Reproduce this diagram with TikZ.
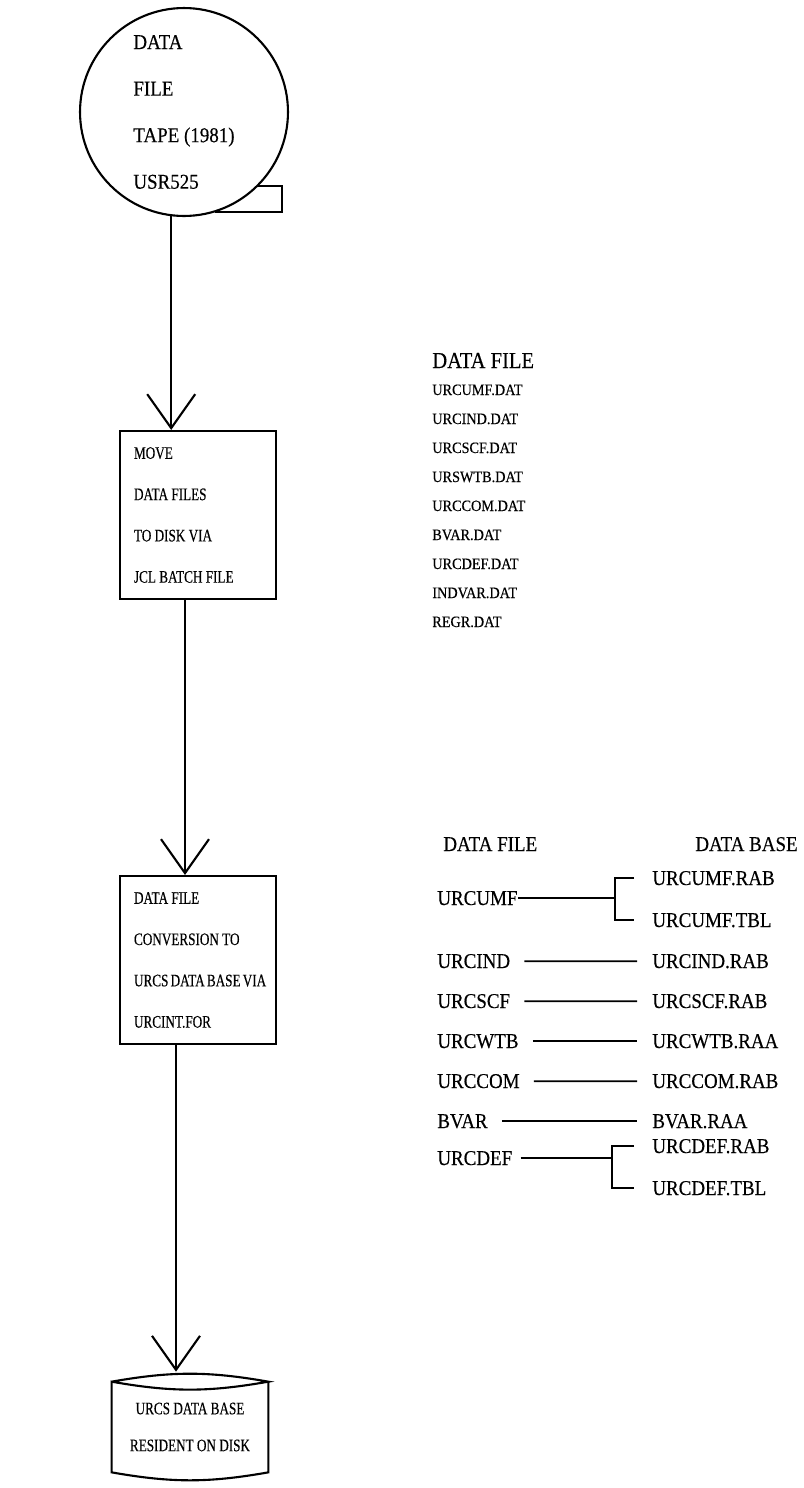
\documentclass[tikz,border=0pt]{standalone}
\usepackage{fontspec}
\setmainfont{Liberation Serif}[FakeStretch=0.9, FakeBold=0.3]
\newfontfamily\boxfont{Liberation Serif}[FakeStretch=0.75, FakeBold=0.3]
\usetikzlibrary{arrows.meta}

\begin{document}
\begin{tikzpicture}[x=0.02cm, y=-0.02cm,
  line/.style={line width=1.2pt},
  arr/.style={line width=1.2pt, -{Straight Barb[length=0.68cm, width=0.96cm]}},
  link/.style={line width=1pt},
  tape/.style={circle, draw, line width=1.2pt, minimum size=4.16cm, align=left,
    font=\fontsize{12}{26.5}\selectfont},
  box/.style={draw, line width=1.2pt, minimum width=3.12cm, minimum height=3.36cm,
    inner xsep=0.28cm, text width=2.56cm, align=flush left,
    font=\boxfont\fontsize{10}{23.5}\selectfont},
  disktxt/.style={minimum width=3.12cm, minimum height=1.8cm, align=center,
    font=\boxfont\fontsize{10}{21}\selectfont},
  hd/.style={anchor=base west, inner sep=0pt, font=\fontsize{12}{14}\selectfont},
  item/.style={anchor=base west, inner sep=0pt, font=\fontsize{9}{11}\selectfont},
  tbl/.style={anchor=base west, inner xsep=0pt, font=\fontsize{12}{14}\selectfont}]

\useasboundingbox (0,0) rectangle (804,1488);

% flow on the left
\node[tape] (tape) at (184,112) {DATA\\FILE\\TAPE (1981)\\USR525};
\draw[line] (tape.-45) -- ++(24,0) -- ++(0,26) coordinate (tabc) -- (tabc -| tape.-73);

\node[box] (move) at (198,515) {MOVE\\DATA FILES\\TO DISK VIA\\JCL BATCH FILE};
\node[box] (conv) at (198,960) {DATA FILE\\CONVERSION TO\\URCS~DATA~BASE~VIA\\URCINT.FOR};

\node[disktxt] (disk) at (190,1427) {URCS DATA BASE\\RESIDENT ON DISK};
\draw[line] (disk.north west) to[bend left=10] (disk.north east)
  to[bend left=10] (disk.north west) -- (disk.south west)
  to[bend right=10] (disk.south east) -- (disk.north east);
\coordinate (disktop) at ([yshift=0.2cm]disk.north);

\draw[arr] (tape.-97) -- (tape.-97 |- move.north);
\draw[arr] ([xshift=-0.26cm]move.south) -- ([xshift=-0.26cm]move.south |- conv.north);
\draw[arr] ([xshift=-0.44cm]conv.south) -- ([xshift=-0.44cm]conv.south |- disktop);

% list of data files
\node[hd, font=\fontsize{13}{15}\selectfont] (files) at (432,368) {DATA FILE};
\node[item] (f1) at (432,395) {URCUMF.DAT};
\node[item] (f2) at (432,424) {URCIND.DAT};
\node[item] (f3) at (432,453) {URCSCF.DAT};
\node[item] (f4) at (432,482) {URSWTB.DAT};
\node[item] (f5) at (432,511) {URCCOM.DAT};
\node[item] (f6) at (432,540) {BVAR.DAT};
\node[item] (f7) at (432,569) {URCDEF.DAT};
\node[item] (f8) at (432,598) {INDVAR.DAT};
\node[item] (f9) at (432,627) {REGR.DAT};

% data file to data base table
\node[hd] (dfcol) at (443,851) {DATA FILE};
\node[hd] (dbcol) at (695,851) {DATA BASE};

\node[tbl] (urcumf) at (437,905) {URCUMF};
\node[tbl] (urcumfrab) at (652,885) {URCUMF.RAB};
\node[tbl] (urcumftbl) at (652,927) {URCUMF.TBL};
\node[tbl] (urcind) at (437,968) {URCIND};
\node[tbl] (urcindrab) at (652,968) {URCIND.RAB};
\node[tbl] (urcscf) at (437,1008) {URCSCF};
\node[tbl] (urcscfrab) at (652,1008) {URCSCF.RAB};
\node[tbl] (urcwtb) at (437,1048) {URCWTB};
\node[tbl] (urcwtbraa) at (652,1048) {URCWTB.RAA};
\node[tbl] (urccom) at (437,1088) {URCCOM};
\node[tbl] (urccomrab) at (652,1088) {URCCOM.RAB};
\node[tbl] (bvar) at (437,1128) {BVAR};
\node[tbl] (bvarraa) at (652,1128) {BVAR.RAA};
\node[tbl] (urcdef) at (437,1165) {URCDEF};
\node[tbl] (urcdefrab) at (652,1153) {URCDEF.RAB};
\node[tbl] (urcdeftbl) at (652,1195) {URCDEF.TBL};

\draw[link] (urcumf.east) -- (615,0 |- urcumf.east) coordinate (brkumf);
\draw[link] ([xshift=-0.36cm]urcumfrab.west) -| (brkumf) |- ([xshift=-0.36cm]urcumftbl.west);
\draw[link, shorten <=0.28cm, shorten >=0.3cm] (urcind) -- (urcindrab);
\draw[link, shorten <=0.28cm, shorten >=0.3cm] (urcscf) -- (urcscfrab);
\draw[link, shorten <=0.28cm, shorten >=0.3cm] (urcwtb) -- (urcwtbraa);
\draw[link, shorten <=0.28cm, shorten >=0.3cm] (urccom) -- (urccomrab);
\draw[link, shorten <=0.28cm, shorten >=0.3cm] (bvar) -- (bvarraa);
\draw[link, shorten <=0.16cm] (urcdef.east) -- (612,0 |- urcdef.east) coordinate (brkdef);
\draw[link] ([xshift=-0.36cm]urcdefrab.west) -| (brkdef) |- ([xshift=-0.36cm]urcdeftbl.west);

\end{tikzpicture}
\end{document}
